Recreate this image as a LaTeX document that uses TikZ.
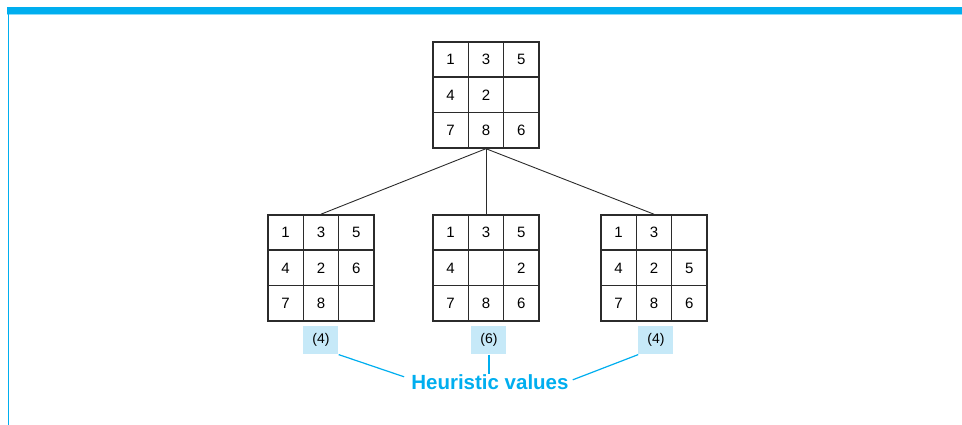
\documentclass[tikz,border=0pt]{standalone}
\usepackage{fontspec}
\setmainfont{Liberation Sans}
\usepackage{tikz}
\usetikzlibrary{positioning}

\definecolor{framecyan}{HTML}{00AEEF}
\definecolor{labelfill}{HTML}{C6E9F8}
\definecolor{gridgray}{HTML}{2B2B2B}

\begin{document}
\begin{tikzpicture}[x=1pt, y=1pt,
    cell/.style={draw=gridgray, line width=1.6pt, minimum size=35.3pt, inner sep=0pt, font=\fontsize{15}{17}\selectfont},
    hval/.style={fill=labelfill, minimum width=35pt, minimum height=28.5pt, inner sep=0pt, font=\fontsize{14}{16}\selectfont},
    hnote/.style={text=framecyan, inner sep=0pt, font=\bfseries\fontsize{20.5}{24}\selectfont},
    hline/.style={draw=framecyan, line width=1.2pt}]
    \useasboundingbox (0,0) rectangle (962,425);

    % Draw frame
    \fill[framecyan] (7,411) rectangle (962,418);
    \fill[framecyan!45] (7,410) rectangle (962,411);
    \draw[framecyan, line width=1.3pt] (8.6,0) -- (8.6,411);

    % Draw the four boards
    \foreach \name/\x/\y/\tiles in {top/433/383/{1,3,5,4,2,{},7,8,6},
                                    left/268/210/{1,3,5,4,2,6,7,8,{}},
                                    mid/433/210/{1,3,5,4,{},2,7,8,6},
                                    right/601/210/{1,3,{},4,2,5,7,8,6}}
        \foreach \t [count=\i from 0] in \tiles {
            \pgfmathtruncatemacro{\col}{mod(\i,3)}
            \pgfmathtruncatemacro{\row}{int(\i/3)}
            \node[cell] (\name-\i) at ({\x+17.65+35.3*\col},{\y-17.65-35.3*\row}) {\t};
        }

    % Draw tree edges
    \draw[gridgray, line width=0.9pt] (top-7.south) -- (left-1.north);
    \draw[gridgray, line width=0.9pt] (top-7.south) -- (mid-1.north);
    \draw[gridgray, line width=0.9pt] (top-7.south) -- (right-1.north);

    % Heuristic values
    \node[hval, below=4pt of left-7] (left-h) {(4)};
    \node[hval, below=4pt of mid-7, xshift=3pt] (mid-h) {(6)};
    \node[hval, below=4pt of right-7, xshift=2pt] (right-h) {(4)};
    \node[hnote, below=19.5pt of mid-h, xshift=1pt] (heur) {Heuristic values};

    \draw[hline] (left-h.south east) -- ([xshift=-7pt, yshift=5pt]heur.west);
    \draw[hline] (mid-h.south) -- (mid-h.south |- heur.north);
    \draw[hline] (right-h.south west) -- ([xshift=4pt, yshift=2pt]heur.east);
\end{tikzpicture}
\end{document}
